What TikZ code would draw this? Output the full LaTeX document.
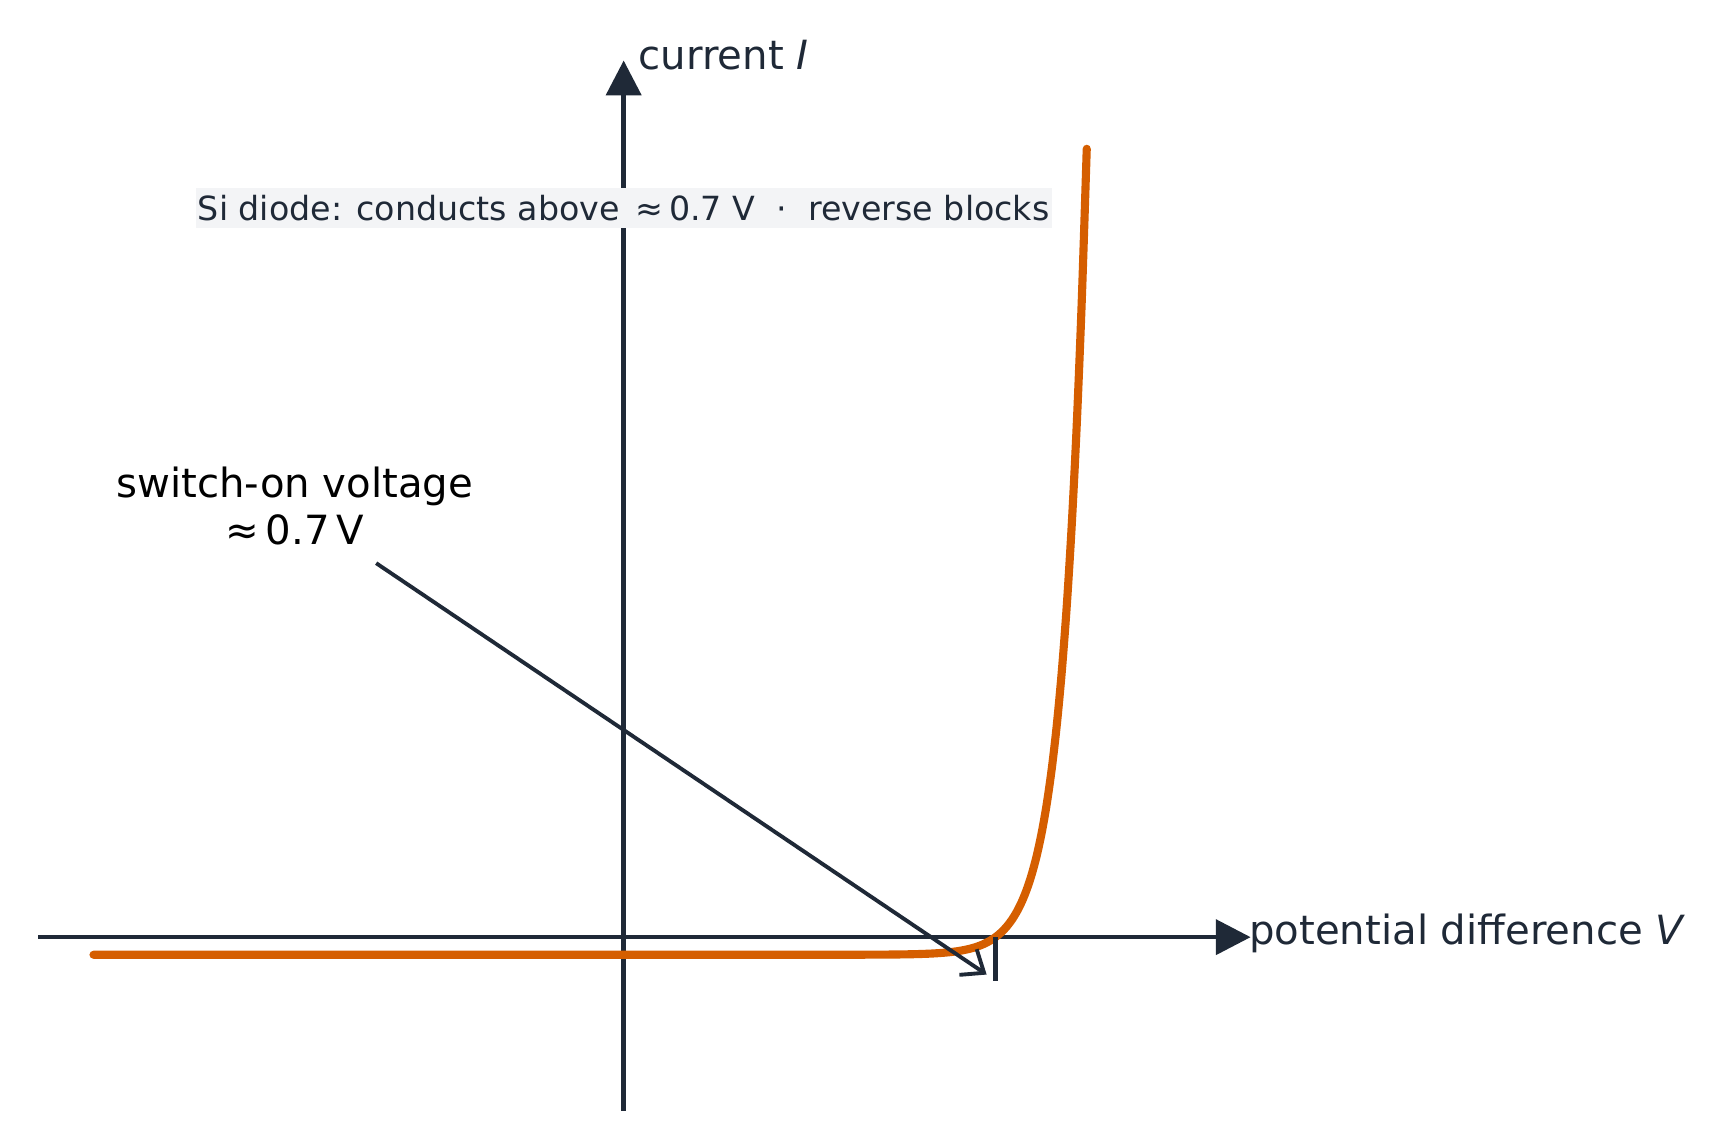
\documentclass[tikz,border=0pt]{standalone}
\usepackage{fontspec}
\setmainfont{DejaVu Sans}
\usetikzlibrary{arrows.meta,positioning}
\definecolor{ink}{HTML}{1F2937}
\definecolor{curve}{HTML}{D55E00}
\definecolor{boxbg}{HTML}{F3F4F6}
\begin{document}
\begin{tikzpicture}[x=0.01cm,y=0.01cm,
    axis/.style={draw=ink, line width=1.2pt, -{Triangle[length=9pt,width=9pt]}},
    axislabel/.style={text=ink, font=\fontsize{10.4}{12}\selectfont, inner sep=0pt},
    iv/.style={draw=curve, line width=2.1pt, line cap=round}]
    \useasboundingbox (0,0) rectangle (1561,1041);
    % axes
    \coordinate (xstart) at (35,189);
    \coordinate (xend) at (1137,189);
    \coordinate (ystart) at (567,31);
    \coordinate (yend) at (567,986);
    \draw[axis] (xstart) -- (xend);
    \draw[axis] (ystart) -- (yend);
    \node (box) [fill=boxbg, text=ink, font=\fontsize{8.6}{10}\selectfont,
        minimum width=7.78cm, minimum height=0.37cm, inner sep=0pt] at (567,852)
        {Si diode: conducts above \,≈\,0.7 V \ · \ reverse blocks};
    \node (ylabel) [axislabel, anchor=west] at (580,991) {current \textit{I}};
    \node (xlabel) [axislabel, anchor=west] at (1135,192) {potential difference \textit{V}};
    % curve
    \draw[iv] plot[domain=85:988, samples=200, smooth]
        (\x, {1041-868+12.7*exp((\x-900)/21.7)});
    % switch-on marker
    \coordinate (ticktop) at (905,189);
    \coordinate (tickbot) at (905,149);
    \draw[ink, line width=1.2pt] (ticktop) -- (tickbot);
    \node (switch) [align=center, font=\fontsize{10.4}{12}\selectfont, inner sep=0pt]
        at (268,581) {switch-on voltage\\≈\,0.7\,V};
    \coordinate (from) at (342,529);
    \coordinate (to) at (897,155);
    \draw[ink, line width=1pt, -{Straight Barb[length=5pt,width=8pt]}] (from) -- (to);
\end{tikzpicture}
\end{document}
